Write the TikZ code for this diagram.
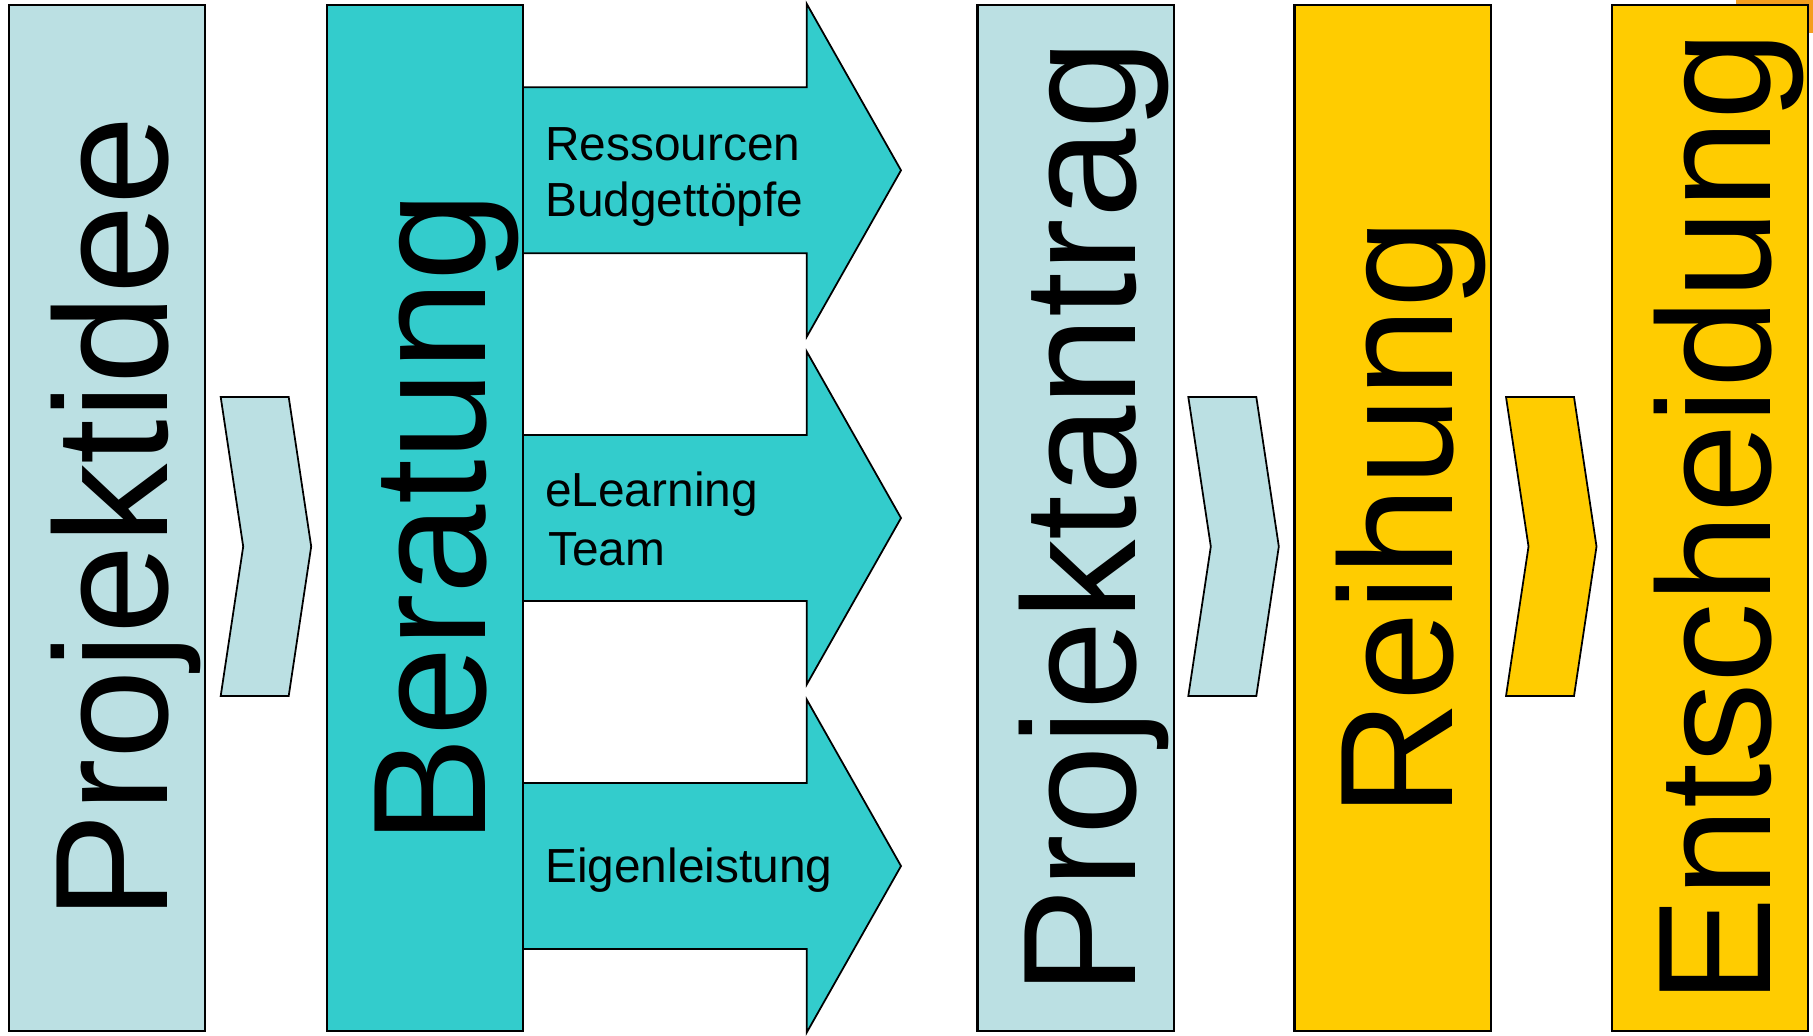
\documentclass[tikz,border=0pt]{standalone}
\usepackage{fontspec}
\setmainfont{Liberation Sans}
\definecolor{paleblue}{HTML}{BBE0E3}
\definecolor{tealfill}{HTML}{33CCCC}
\definecolor{gold}{HTML}{FFCC00}
\definecolor{amber}{HTML}{F59E1E}
\begin{document}
\begin{tikzpicture}[x=0.01cm,y=-0.01cm,
  stage/.style={draw=black,line width=0.6pt,rectangle,inner sep=0pt,
    minimum width=1.96cm,minimum height=10.26cm},
  stagetext/.style={rotate=90,anchor=base,inner sep=0pt,
    font=\fontsize{45.7}{50}\selectfont},
  chevron/.style={draw=black,line width=0.5pt,line join=miter},
  branch/.style={fill=tealfill,draw=black,line width=0.5pt,line join=miter},
  branchtext/.style={anchor=base west,inner sep=0pt,
    font=\fontsize{13.6}{16}\selectfont}
]
\path[use as bounding box] (0,0) rectangle (1813,1035);
\clip (0,0) rectangle (1813,1035);

% orange patch peeking out behind the last stage
\fill[amber] (1736,-5) rectangle (1820,33);

% three branch arrows leaving the consulting stage
\foreach \c/\n in {170.3/a, 518/b, 866/c}{
  \path[branch] (523,\c-83) -- (806.7,\c-83) -- (806.7,\c-166.5)
    -- (901,\c) -- (806.7,\c+166.5) -- (806.7,\c+83) -- (523,\c+83);
}

% stages
\node[stage,fill=paleblue] (idee)   at (107,518)    {};
\node[stage,fill=tealfill] (berat)  at (425,518)    {};
\node[stage,fill=paleblue] (antrag) at (1075.5,518) {};
\node[stage,fill=gold]     (reih)   at (1392.5,518) {};
\node[stage,fill=gold]     (entsch) at (1710,518)   {};

\node[stagetext] (ideeT)   at ([xshift=0.6cm]idee.center)   {Projektidee};
\node[stagetext] (beratT)  at ([xshift=0.6cm]berat.center)  {Beratung};
\node[stagetext] (antragT) at ([xshift=0.6cm]antrag.center) {Projektantrag};
\node[stagetext] (reihT)   at ([xshift=0.6cm]reih.center)   {Reihung};
\node[stagetext] (entschT) at ([xshift=0.6cm]entsch.center) {Entscheidung};

% chevrons between stages
\foreach \l/\f in {220.7/paleblue, 1188.3/paleblue, 1506/gold}{
  \path[chevron,fill=\f] (\l,397) -- (\l+68,397) -- (\l+90.5,546.5)
    -- (\l+68,696) -- (\l,696) -- (\l+22.5,546.5) -- cycle;
}

% branch labels
\node[branchtext] (res1) at (544.5,160)   {Ressourcen};
\node[branchtext] (res2) at (544.5,216.7) {Budgettöpfe};
\node[branchtext] (elt1) at (544.5,506.7) {eLearning};
\node[branchtext] (elt2) at (547.5,565)   {Team};
\node[branchtext] (eig)  at (544.5,882.7) {Eigenleistung};
\end{tikzpicture}
\end{document}
